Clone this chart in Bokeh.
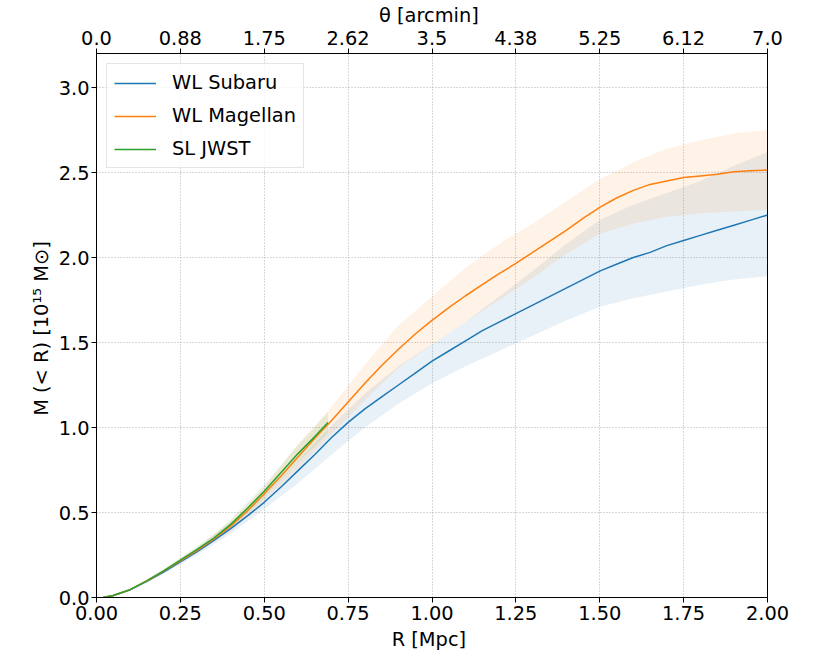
from bokeh.plotting import figure
from bokeh.models import LinearAxis, FixedTicker
from bokeh.embed import file_html
from bokeh.resources import INLINE

# ---- data ----
R = [0.02, 0.05, 0.10, 0.15, 0.20, 0.25, 0.30, 0.35, 0.40, 0.45, 0.50, 0.55, 0.60, 0.65, 0.70,
     0.75, 0.80, 0.85, 0.90, 0.95, 1.00, 1.05, 1.10, 1.15, 1.20, 1.25, 1.30, 1.35, 1.40, 1.45,
     1.50, 1.55, 1.60, 1.65, 1.70, 1.75, 1.80, 1.85, 1.90, 1.95, 2.00]
subaru = [0.0, 0.012, 0.045, 0.095, 0.15, 0.21, 0.27, 0.336, 0.405, 0.48, 0.56, 0.65, 0.745, 0.84, 0.94,
          1.03, 1.11, 1.18, 1.25, 1.32, 1.39, 1.45, 1.51, 1.57, 1.62, 1.67, 1.72, 1.77, 1.82, 1.87,
          1.92, 1.96, 2.00, 2.03, 2.07, 2.10, 2.13, 2.16, 2.19, 2.22, 2.25]
magellan = [0.0, 0.012, 0.046, 0.097, 0.155, 0.215, 0.277, 0.345, 0.42, 0.51, 0.61, 0.715, 0.825, 0.935, 1.04,
            1.15, 1.26, 1.365, 1.46, 1.55, 1.63, 1.705, 1.775, 1.84, 1.905, 1.965, 2.03, 2.095, 2.16, 2.23,
            2.295, 2.35, 2.395, 2.43, 2.45, 2.47, 2.48, 2.49, 2.505, 2.51, 2.515]

R_band = [0.02, 0.10, 0.20, 0.30, 0.40, 0.50, 0.60, 0.70, 0.80, 0.90, 1.00,
          1.10, 1.20, 1.30, 1.40, 1.50, 1.60, 1.70, 1.80, 1.90, 2.00]
subaru_lo = [0.0, 0.041, 0.14, 0.25, 0.375, 0.52, 0.67, 0.84, 1.0, 1.14, 1.26,
             1.36, 1.45, 1.54, 1.63, 1.71, 1.76, 1.80, 1.84, 1.87, 1.89]
subaru_hi = [0.0, 0.05, 0.16, 0.29, 0.44, 0.60, 0.80, 1.01, 1.20, 1.36, 1.49,
             1.62, 1.77, 1.92, 2.08, 2.22, 2.31, 2.38, 2.45, 2.54, 2.62]
magellan_lo = [0.0, 0.042, 0.145, 0.262, 0.39, 0.57, 0.76, 0.96, 1.16, 1.35, 1.49,
               1.62, 1.75, 1.88, 2.02, 2.14, 2.20, 2.24, 2.26, 2.27, 2.28]
magellan_hi = [0.0, 0.05, 0.165, 0.295, 0.45, 0.65, 0.90, 1.12, 1.37, 1.60, 1.77,
               1.94, 2.08, 2.20, 2.33, 2.46, 2.56, 2.64, 2.69, 2.73, 2.75]

R_jwst = [0.02, 0.05, 0.10, 0.15, 0.20, 0.25, 0.30, 0.35, 0.40, 0.45, 0.50, 0.55, 0.60, 0.65, 0.69]
jwst = [0.0, 0.012, 0.046, 0.098, 0.157, 0.22, 0.283, 0.35, 0.43, 0.525, 0.625, 0.735, 0.845, 0.945, 1.03]
jwst_lo = [0.0, 0.011, 0.043, 0.092, 0.148, 0.207, 0.265, 0.328, 0.403, 0.493, 0.588, 0.692, 0.795, 0.89, 0.97]
jwst_hi = [0.0, 0.013, 0.049, 0.104, 0.166, 0.233, 0.301, 0.372, 0.457, 0.557, 0.662, 0.778, 0.895, 1.0, 1.09]

x_ticks = [0.0, 0.25, 0.5, 0.75, 1.0, 1.25, 1.5, 1.75, 2.0]
x_tick_labels = ["0.00", "0.25", "0.50", "0.75", "1.00", "1.25", "1.50", "1.75", "2.00"]
theta_tick_labels = ["0.0", "0.88", "1.75", "2.62", "3.5", "4.38", "5.25", "6.12", "7.0"]
y_ticks = [0.0, 0.5, 1.0, 1.5, 2.0, 2.5, 3.0]
y_tick_labels = ["0.0", "0.5", "1.0", "1.5", "2.0", "2.5", "3.0"]

BLUE, ORANGE, GREEN = "#1f77b4", "#ff7f0e", "#2ca02c"
FONT = "DejaVu Sans"
FS = "19.4px"

p = figure(width=820, height=653, x_range=(0, 2.0), y_range=(0, 3.2),
           output_backend="svg", toolbar_location=None,
           min_border_left=96, min_border_top=53, min_border_right=53, min_border_bottom=56)
p.background_fill_color = "white"
p.border_fill_color = "white"
p.outline_line_color = "black"
p.outline_line_width = 1

# bands
p.varea(x=R_band, y1=subaru_lo, y2=subaru_hi, fill_color=BLUE, fill_alpha=0.1)
p.varea(x=R_band, y1=magellan_lo, y2=magellan_hi, fill_color=ORANGE, fill_alpha=0.1)
p.varea(x=R_jwst, y1=jwst_lo, y2=jwst_hi, fill_color=GREEN, fill_alpha=0.1)

# lines
p.line(R, subaru, line_color=BLUE, line_width=1.5, legend_label="WL Subaru")
p.line(R, magellan, line_color=ORANGE, line_width=1.5, legend_label="WL Magellan")
p.line(R_jwst, jwst, line_color=GREEN, line_width=1.5, legend_label="SL JWST")

def style_axis(ax):
    ax.axis_line_color = "black"
    ax.major_tick_line_color = "black"
    ax.minor_tick_line_color = None
    ax.major_tick_out = 5
    ax.major_tick_in = 0
    ax.major_label_text_font = FONT
    ax.major_label_text_font_size = FS
    ax.major_label_text_color = "black"
    ax.axis_label_text_font = FONT
    ax.axis_label_text_font_size = FS
    ax.axis_label_text_font_style = "normal"
    ax.axis_label_text_color = "black"
    ax.major_label_standoff = 3

xa = p.xaxis[0]
xa.ticker = FixedTicker(ticks=x_ticks)
xa.major_label_overrides = dict(zip(x_ticks, x_tick_labels))
xa.axis_label = "R  [Mpc]"
style_axis(xa)
xa.axis_label_standoff = 5

ya = p.yaxis[0]
ya.ticker = FixedTicker(ticks=y_ticks)
ya.major_label_overrides = dict(zip(y_ticks, y_tick_labels))
ya.axis_label = "M (< R)  [10¹⁵ M⊙]"
style_axis(ya)
ya.major_label_standoff = 2
ya.axis_label_standoff = 3

top = LinearAxis(ticker=FixedTicker(ticks=x_ticks),
                 major_label_overrides=dict(zip(x_ticks, theta_tick_labels)),
                 axis_label="θ  [arcmin]")
style_axis(top)
top.axis_label_standoff = 1
top.major_label_standoff = 4
p.add_layout(top, "above")

for g in (p.xgrid[0], p.ygrid[0]):
    g.grid_line_color = "#b0b0b0"
    g.grid_line_dash = "1 2"
    g.grid_line_width = 1
p.xgrid[0].ticker = FixedTicker(ticks=x_ticks)
p.ygrid[0].ticker = FixedTicker(ticks=y_ticks)

lg = p.legend[0]
lg.location = "top_left"
lg.margin = 10
lg.padding = 7
lg.spacing = 10
lg.label_text_font = FONT
lg.label_text_font_size = FS
lg.label_text_color = "black"
lg.label_standoff = 16
lg.glyph_width = 42
lg.glyph_height = 22
lg.label_height = 22
lg.border_line_color = "#cccccc"
lg.border_line_width = 1
lg.background_fill_alpha = 0.8

open("out.html", "w").write(file_html(p, INLINE))
